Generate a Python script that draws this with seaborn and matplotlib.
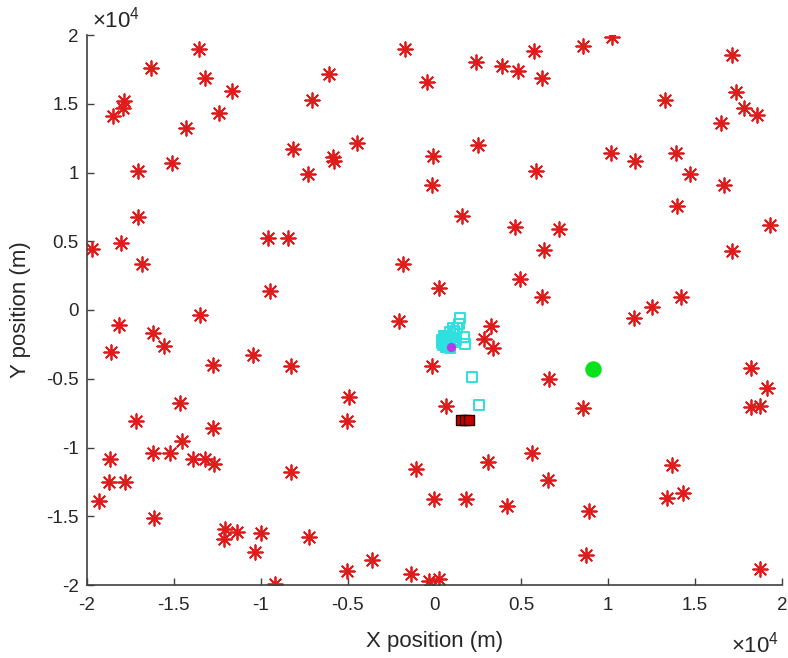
import matplotlib
matplotlib.use('Agg')
import matplotlib.pyplot as plt
import seaborn as sns
import pandas as pd
from matplotlib.ticker import FuncFormatter, MultipleLocator

sns.set_style('ticks')
plt.rcParams['font.family'] = ['Liberation Sans', 'DejaVu Sans']
plt.rcParams['axes.unicode_minus'] = False
plt.rcParams['mathtext.fontset'] = 'custom'
plt.rcParams['mathtext.rm'] = 'Liberation Sans'

# node positions (m), red stars
node_x = [-13550, -16310, -13190, -11650, -17870, -17950, -18500, -12390, -14300, -6085,
          -7075, -1700, -430, -8125, -5840, -5760, -4470, -7285, -85, -145,
          -17040, -15130, -17040, -18045, -19700, -16845, -9555, -8430, -1800, -9455,
          255, 10240, 8540, 5700, 2410, 3860, 4790, 6200, 17110, 17360,
          17815, 18580, 16470, 13285, 2500, 5820, 10160, 11530, 13915, 14730,
          16655, 13930, 1590, 4620, 7170, 6315, 19325, 17110, 4945, 6200,
          14200, 12540, -13515, -18140, -16215, -15590, -18615, -12730, -10445, -8255,
          -2070, -145, -14655, -17170, -12730, -4905, -5055, -14560, -16215, -15210,
          -18695, -13875, -13230, -12715, -8255, -1040, -18715, -17840, -19325, -30,
          -16125, -12045, -12125, -11360, -9990, -7245, -10315, -3610, -5055, -1325,
          -315, 255, -9190, 11475, 3245, 2830, 3345, 6585, 8540, 675,
          18240, 19155, 18240, 18730, 5630, 3055, 13670, 6545, 1785, 4145,
          13380, 14315, 8905, 8730, 18715]
node_y = [18960, 17580, 16895, 15950, 15200, 14670, 14110, 14330, 13260, 17140,
          15275, 18985, 16560, 11690, 11150, 10860, 12125, 9890, 11200, 9090,
          10130, 10715, 6740, 4895, 4415, 3345, 5235, 5235, 3345, 1405,
          1600, 19835, 19225, 18860, 18035, 17745, 17360, 16875, 18525, 15855,
          14670, 14205, 13620, 15250, 12000, 10110, 11395, 10815, 11420, 9890,
          9070, 7565, 6860, 6035, 5915, 4385, 6180, 4315, 2235, 925,
          965, 220, -365, -1090, -1675, -2595, -3075, -4000, -3275, -4095,
          -800, -4075, -6785, -8075, -8560, -6305, -8075, -9525, -10380, -10380,
          -10835, -10835, -10835, -11220, -11760, -11565, -12490, -12490, -13890, -13745,
          -15150, -15930, -16675, -16125, -16220, -16530, -17600, -18205, -18985, -19200,
          -19710, -19565, -19950, -605, -1165, -2110, -2785, -5020, -7150, -6980,
          -4195, -5695, -7075, -6980, -10380, -11055, -11295, -12365, -13745, -14235,
          -13650, -13290, -14595, -17840, -18860]

# estimated positions (cyan squares)
est_x = [1455, 1400, 1055, 885, 770, 655, 600, 655, 885, 1230,
         1685, 1745, 430, 485, 715, 545, 2145, 2545, 1000, 1150,
         600, 770, 430, 1300, 1055, 885]
est_y = [-580, -1020, -1310, -1600, -1890, -2180, -2400, -2690, -2765, -2180,
         -1965, -2475, -2180, -2545, -2400, -1890, -4875, -6910, -2000, -1500,
         -2000, -2600, -2400, -1300, -2300, -2150]

# true target (magenta), reference (green), final estimate (dark red)
target_x = [940]
target_y = [-2690]
ref_x = [9115]
ref_y = [-4290]
final_x = [1515, 1745, 1970]
final_y = [-8000, -8000, -8000]

nodes = pd.DataFrame({'x': node_x, 'y': node_y})
est = pd.DataFrame({'x': est_x, 'y': est_y})

fig = plt.figure(figsize=(7.88, 6.58), dpi=100)
ax = fig.add_axes([87 / 788, 1 - 585 / 658, 695 / 788, 550 / 658])

sns.scatterplot(data=nodes, x='x', y='y', ax=ax, marker=(8, 2, 0), s=110,
                color='#e01b1b', linewidth=1.3)
sns.scatterplot(data=est, x='x', y='y', ax=ax, marker='s', s=50,
                facecolor='none', edgecolor='#2ee0e0', linewidth=1.4)
sns.scatterplot(x=target_x, y=target_y, ax=ax, marker='o', s=45,
                color='#b43ce6', edgecolor='#b43ce6', linewidth=0)
sns.scatterplot(x=ref_x, y=ref_y, ax=ax, marker='o', s=140,
                color='#08e21a', edgecolor='#08e21a', linewidth=0)
sns.scatterplot(x=final_x, y=final_y, ax=ax, marker='s', s=50,
                color='#c80000', edgecolor='#200000', linewidth=1.0)

ax.set_xlim(-20000, 20000)
ax.set_ylim(-20000, 20000)
ax.xaxis.set_major_locator(MultipleLocator(5000))
ax.yaxis.set_major_locator(MultipleLocator(5000))
fmt = FuncFormatter(lambda v, p: '%g' % (v / 1e4))
ax.xaxis.set_major_formatter(fmt)
ax.yaxis.set_major_formatter(fmt)

gray = '#262626'
sns.despine(ax=ax)
for side in ['left', 'bottom']:
    ax.spines[side].set_color('#404040')
    ax.spines[side].set_linewidth(1.2)
ax.tick_params(direction='in', length=5, width=1.0, colors='#404040',
               labelcolor=gray, labelsize=13.5)
ax.tick_params(axis='x', pad=9)
ax.tick_params(axis='y', pad=6)

ax.set_xlabel('X position (m)', fontsize=16, color=gray)
ax.set_ylabel('Y position (m)', fontsize=16, color=gray)
ax.xaxis.set_label_coords(0.5, -0.083)
ax.yaxis.set_label_coords(-0.08, 0.5)

ax.text(0.007, 1.004, r'$\times10^{4}$', transform=ax.transAxes, ha='left',
        va='bottom', fontsize=16, color=gray)
ax.text(0.996, -0.085, r'$\times10^{4}$', transform=ax.transAxes, ha='right',
        va='top', fontsize=16, color=gray)

fig.savefig('out.png', dpi=100)
